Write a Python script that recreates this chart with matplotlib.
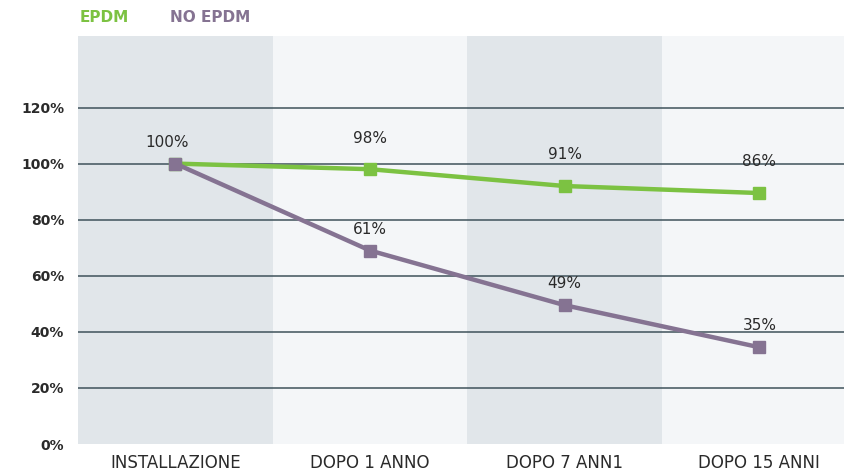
import matplotlib
matplotlib.use("Agg")
import matplotlib.pyplot as plt

# Data
categories = ["INSTALLAZIONE", "DOPO 1 ANNO", "DOPO 7 ANN1", "DOPO 15 ANNI"]
epdm = [100, 98, 92, 89.5]
no_epdm = [100, 69, 49.5, 34.5]
epdm_labels = ["", "98%", "91%", "86%"]
no_epdm_labels = ["100%", "61%", "49%", "35%"]
yticks = [0, 20, 40, 60, 80, 100, 120]

GREEN = "#7cc242"
PURPLE = "#857392"
BAND_DARK = "#e1e6ea"
BAND_LIGHT = "#f4f6f8"
GRID = "#3f525b"
TEXT = "#2a2a2a"

plt.rcParams["font.family"] = ["DejaVu Sans"]

fig = plt.figure(figsize=(8.45, 4.73), dpi=100)
ax = fig.add_axes([78 / 845, 29 / 473, 767 / 845, 408 / 473])

# alternating background bands, one per category
for i in range(len(categories)):
    ax.axvspan(i - 0.5, i + 0.5, color=BAND_DARK if i % 2 == 0 else BAND_LIGHT, lw=0, zorder=0)

for y in yticks[1:]:
    ax.axhline(y, color=GRID, lw=1.1, zorder=1)

x = list(range(len(categories)))
ax.plot(x, epdm, color=GREEN, lw=3.2, marker="s", ms=9, zorder=3)
ax.plot(x, no_epdm, color=PURPLE, lw=3.2, marker="s", ms=9, zorder=4)

for xi, yi, lab in zip(x, epdm, epdm_labels):
    if lab:
        ax.annotate(lab, (xi, yi), xytext=(0, 17), textcoords="offset points",
                    ha="center", va="bottom", fontsize=11, color=TEXT, fontweight="medium")
for xi, yi, lab in zip(x, no_epdm, no_epdm_labels):
    ax.annotate(lab, (xi, yi), xytext=(-6 if xi == 0 else 0, 10), textcoords="offset points",
                ha="center", va="bottom", fontsize=11, color=TEXT, fontweight="medium")

ax.set_xlim(-0.5, 3.44)
ax.set_ylim(0, 145.5)
ax.set_xticks(x)
ax.set_xticklabels(categories, fontsize=12, color=TEXT)
ax.set_yticks(yticks)
ax.set_yticklabels([f"{v}%" for v in yticks], fontsize=10, color=TEXT, fontweight="bold")
ax.tick_params(axis="both", length=0)
ax.tick_params(axis="x", pad=7)
ax.tick_params(axis="y", pad=10)
for s in ax.spines.values():
    s.set_visible(False)

# legend as coloured text above the plot
fig.text(80 / 845, 1 - 18 / 473, "EPDM", color=GREEN, fontsize=11, fontweight="bold", va="center")
fig.text(170 / 845, 1 - 18 / 473, "NO EPDM", color=PURPLE, fontsize=11, fontweight="bold", va="center")

fig.savefig("out.png", dpi=100)
